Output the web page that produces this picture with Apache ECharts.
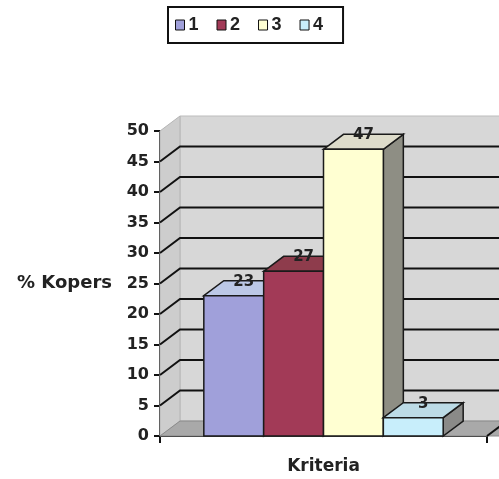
<!DOCTYPE html>
<html>
<head>
<meta charset="utf-8">
<script src="https://cdn.jsdelivr.net/npm/echarts@6/dist/echarts.min.js"></script>
<style>
  html, body { margin: 0; padding: 0; background: #fff; }
  #main { width: 499px; height: 479px; }
</style>
</head>
<body>
<div id="main"></div>
<script>
var categories = ['Kriteria'];
var seriesNames = ['1', '2', '3', '4'];
var values = [23, 27, 47, 3];
var yTicks = [0, 5, 10, 15, 20, 25, 30, 35, 40, 45, 50];

// face colours: front, top, side
var faces = [
    ['#a0a0da', '#bcc8e6', '#7c7ca8'],
    ['#a23a57', '#8e3c4c', '#7a2e40'],
    ['#ffffd2', '#dedccb', '#8e8e84'],
    ['#c8eefb', '#bcdbe6', '#8a8a88']
];

// 3D depth offset in pixels
var DX = 20, DY = -15;
var BOLD = '"DejaVu Sans", sans-serif';

var chartDom = document.getElementById('main');
var myChart = echarts.init(chartDom, null, { width: 499, height: 479 });

function wallsItem(params, api) {
    var cs = params.coordSys;
    var x0 = cs.x, x1 = cs.x + cs.width;
    var yb = api.coord([0, 0])[1];
    var yt = api.coord([0, yTicks[yTicks.length - 1]])[1];
    var children = [];
    // back wall
    children.push({
        type: 'rect',
        shape: { x: x0 + DX, y: yt + DY, width: cs.width + 40, height: yb - yt },
        style: { fill: '#d7d7d7', stroke: '#bdbdbd', lineWidth: 1 }
    });
    // left wall
    children.push({
        type: 'polygon',
        shape: { points: [[x0, yt], [x0 + DX, yt + DY], [x0 + DX, yb + DY], [x0, yb]] },
        style: { fill: '#cdcdcd', stroke: '#b5b5b5', lineWidth: 1 }
    });
    // floor
    children.push({
        type: 'polygon',
        shape: { points: [[x0, yb], [x0 + DX, yb + DY], [x1 + DX + 40, yb + DY], [x1 + 40, yb]] },
        style: { fill: '#a9a9a9', stroke: '#8a8a8a', lineWidth: 1 }
    });
    // grid lines on the walls
    for (var i = 1; i < yTicks.length - 1; i++) {
        var y = api.coord([0, yTicks[i]])[1];
        children.push({
            type: 'polyline',
            shape: { points: [[x0, y], [x0 + DX, y + DY], [x1 + DX + 40, y + DY]] },
            style: { stroke: '#111', lineWidth: 2, fill: null }
        });
    }
    // right floor edge
    children.push({
        type: 'line',
        shape: { x1: x1, y1: yb, x2: x1 + DX, y2: yb + DY },
        style: { stroke: '#111', lineWidth: 2 }
    });
    return { type: 'group', children: children };
}

function barItem(idx) {
    return function (params, api) {
        var band = api.size([1, 0])[0];
        var bw = band * 0.183;
        var base = api.coord([api.value(0), 0]);
        var top = api.coord([api.value(0), api.value(1)]);
        var x0 = base[0] - 2 * bw + idx * bw;
        var yb = base[1], yt = top[1];
        var f = faces[idx];
        var line = { stroke: '#1a1a1a', lineWidth: 1.5 };
        return {
            type: 'group',
            children: [
                {
                    type: 'polygon',
                    shape: { points: [[x0 + bw, yt], [x0 + bw + DX, yt + DY], [x0 + bw + DX, yb + DY], [x0 + bw, yb]] },
                    style: Object.assign({ fill: f[2] }, line)
                },
                {
                    type: 'polygon',
                    shape: { points: [[x0, yt], [x0 + DX, yt + DY], [x0 + bw + DX, yt + DY], [x0 + bw, yt]] },
                    style: Object.assign({ fill: f[1] }, line)
                },
                {
                    type: 'rect',
                    shape: { x: x0, y: yt, width: bw, height: yb - yt },
                    style: Object.assign({ fill: f[0] }, line)
                },
                {
                    type: 'text',
                    x: x0 + bw / 2 + DX / 2,
                    y: yt - 14,
                    style: {
                        text: String(api.value(1)),
                        fill: '#222',
                        font: 'bold 15px ' + BOLD,
                        align: 'center',
                        verticalAlign: 'middle'
                    }
                }
            ]
        };
    };
}

var series = [{
    type: 'custom',
    name: 'walls',
    renderItem: wallsItem,
    data: [[0, 0]],
    silent: true,
    z: 1
}];
seriesNames.forEach(function (name, i) {
    series.push({
        type: 'custom',
        name: name,
        renderItem: barItem(i),
        itemStyle: { color: faces[i][0] },
        data: [[0, values[i]]],
        z: 2
    });
});

var option = {
    backgroundColor: '#fff',
    animation: false,
    textStyle: { fontFamily: BOLD },
    legend: {
        data: seriesNames,
        top: 7,
        left: 168,
        padding: [9, 20, 9, 7],
        icon: 'rect',
        itemWidth: 9,
        itemHeight: 10,
        itemGap: 18,
        borderColor: '#111',
        borderWidth: 2,
        backgroundColor: '#fff',
        itemStyle: { borderColor: '#111', borderWidth: 1 },
        textStyle: {
            fontFamily: '"Liberation Sans", Arial, sans-serif',
            fontSize: 18, fontWeight: 'bold', color: '#222', padding: [0, 0, 0, -1]
        }
    },
    grid: { left: 160, top: 131, right: 12, bottom: 43, outerBoundsMode: 'none' },
    xAxis: {
        type: 'category',
        data: categories,
        name: 'Kriteria',
        nameLocation: 'middle',
        nameGap: 22,
        nameTextStyle: { fontSize: 17, fontWeight: 'bold', color: '#222' },
        axisLine: { lineStyle: { color: '#111', width: 2 } },
        axisTick: { show: true, length: 7, lineStyle: { color: '#111', width: 2 } },
        axisLabel: { show: false }
    },
    yAxis: {
        type: 'value',
        min: 0,
        max: 50,
        interval: 5,
        name: '% Kopers',
        nameLocation: 'middle',
        nameRotate: 0,
        nameGap: 48,
        nameTextStyle: { fontSize: 18, fontWeight: 'bold', color: '#222' },
        axisLine: { show: true, lineStyle: { color: '#111', width: 2 } },
        axisTick: { show: true, length: 6, lineStyle: { color: '#111', width: 2 } },
        axisLabel: { fontSize: 16, fontWeight: 'bold', color: '#222', margin: 11 },
        splitLine: { show: false }
    },
    series: series
};

option && myChart.setOption(option);
</script>
</body>
</html>
